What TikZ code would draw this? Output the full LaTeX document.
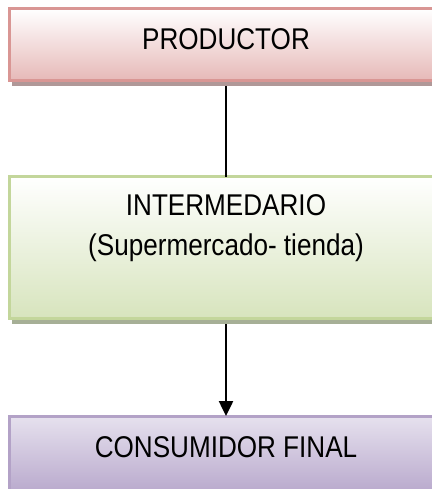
\documentclass[tikz,border=0pt]{standalone}
\usepackage{fontspec}
\setmainfont[FakeStretch=0.87]{Liberation Sans}
\usetikzlibrary{arrows.meta}
\definecolor{redB}{HTML}{D99694}
\definecolor{redF}{HTML}{E6B9B8}
\definecolor{redS}{HTML}{B09898}
\definecolor{grnB}{HTML}{C3D69B}
\definecolor{grnF}{HTML}{D7E4BD}
\definecolor{grnS}{HTML}{A6AF96}
\definecolor{purB}{HTML}{B3A2C7}
\definecolor{purT}{HTML}{E6E1EE}
\definecolor{purF}{HTML}{B8A8CC}
\tikzset{
  box/.style={rectangle, line width=3pt, inner sep=0pt, outer sep=0pt, minimum width=433pt},
  shad/.style={rectangle, inner sep=0pt, outer sep=0pt, minimum width=436pt},
  lbl/.style={font=\fontsize{30}{40}\selectfont, align=center, inner sep=0pt},
  conn/.style={line width=2.5pt, black}
}
\begin{document}
\begin{tikzpicture}[x=1pt,y=-1pt]
\useasboundingbox (0,0) rectangle (431,489);
% shadows
\node[shad, fill=redS, minimum height=75pt] (prodshadow) at (230,48.5) {};
\node[shad, fill=grnS, minimum height=145pt] (intershadow) at (230,251.5) {};
% boxes
\node[box, draw=redB, top color=white, bottom color=redF, minimum height=72pt] (prod) at (226,44.5) {};
\node[box, draw=grnB, top color=white, bottom color=grnF, minimum height=142pt] (inter) at (226,247.5) {};
\node[box, draw=purB, top color=purT, bottom color=purF, minimum height=78pt] (cons) at (226,455) {};
% labels
\node[lbl, anchor=base] (prodlbl) at (226,50) {PRODUCTOR};
\node[lbl, anchor=base] (interlbl) at (226,255) {INTERMEDARIO\\(Supermercado- tienda)};
\node[lbl, anchor=base] (conslbl) at (226,457) {CONSUMIDOR FINAL};
% connectors
\draw[conn] (prodshadow.south -| prod.south) -- (inter.north);
\draw[conn, -{Triangle[width=14pt,length=15pt]}] (intershadow.south -| inter.south) -- (cons.north);
\end{tikzpicture}
\end{document}
